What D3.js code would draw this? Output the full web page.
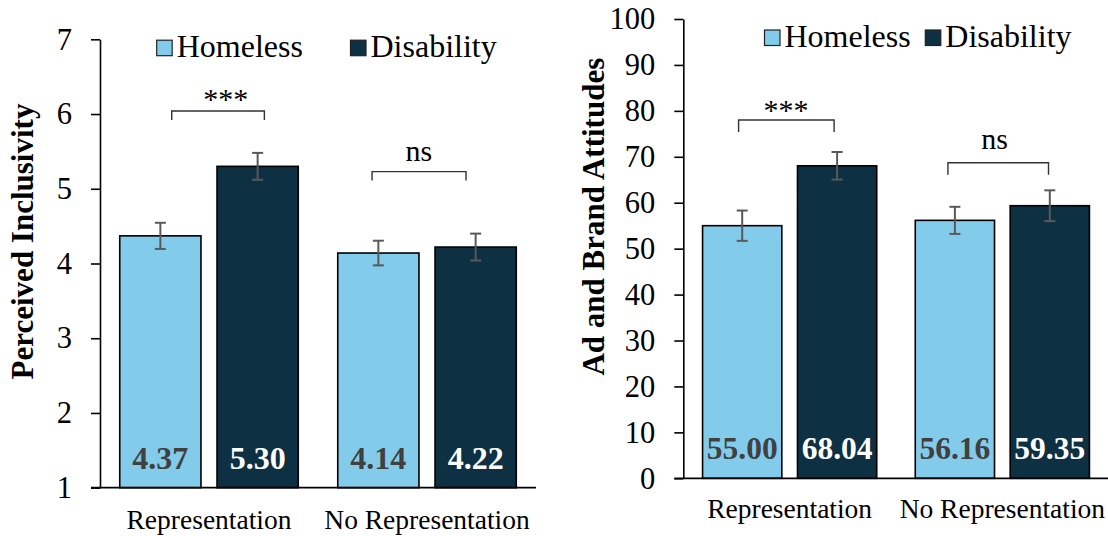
<!DOCTYPE html>
<html>
<head>
<meta charset="utf-8">
<script src="https://cdn.jsdelivr.net/npm/d3@7/dist/d3.min.js"></script>
<style>
  html, body { margin: 0; padding: 0; background: #fff; }
  svg { display: block; }
  svg text { font-family: "Times New Roman", Times, "Liberation Serif", serif !important; }
</style>
</head>
<body>
<svg id="chart" width="1108" height="536"></svg>
<script>
// ---- data ----
const groups = ["Representation", "No Representation"];
const seriesNames = ["Homeless", "Disability"];

const inclusivityHomeless = [4.37, 4.14];
const inclusivityDisability = [5.30, 4.22];
const inclusivityErrHomeless = [0.175, 0.165];
const inclusivityErrDisability = [0.18, 0.18];
const inclusivityTicks = [1, 2, 3, 4, 5, 6, 7];

const attitudeHomeless = [55.00, 56.16];
const attitudeDisability = [68.04, 59.35];
const attitudeErrHomeless = [3.3, 2.95];
const attitudeErrDisability = [3.0, 3.35];
const attitudeTicks = [0, 10, 20, 30, 40, 50, 60, 70, 80, 90, 100];

const sigLabels = ["***", "ns"];

// ---- styling ----
const colors = { Homeless: "#83CBEB", Disability: "#0E3043" };
const labelColors = { Homeless: "#404040", Disability: "#ffffff" };
const FONT = '"Times New Roman", Times, "Liberation Serif", serif';

const svg = d3.select("#chart");

function drawPanel(cfg) {
  const g = svg.append("g").attr("font-family", FONT);
  const rows = groups.map((grp, i) => ({
    group: grp,
    bars: [
      { series: "Homeless", value: cfg.homeless[i], err: cfg.errHomeless[i] },
      { series: "Disability", value: cfg.disability[i], err: cfg.errDisability[i] }
    ]
  }));

  const x0 = d3.scaleBand().domain(groups).range([cfg.left, cfg.right]).paddingInner(0).paddingOuter(0);
  const x1 = d3.scaleBand().domain(seriesNames).range([0, x0.bandwidth()])
    .paddingInner(0.165).paddingOuter(0.203);
  const y = d3.scaleLinear().domain(cfg.domain).range([cfg.bottom, cfg.top]);

  // bars
  const grpSel = g.selectAll("g.grp").data(rows).join("g")
    .attr("transform", d => `translate(${x0(d.group)},0)`);

  grpSel.selectAll("rect").data(d => d.bars).join("rect")
    .attr("x", d => x1(d.series))
    .attr("width", x1.bandwidth())
    .attr("y", d => y(d.value))
    .attr("height", d => y(cfg.domain[0]) - y(d.value))
    .attr("fill", d => colors[d.series])
    .attr("stroke", "#000")
    .attr("stroke-width", 1.6);

  // error bars
  const capHalf = 5.5;
  const eb = grpSel.selectAll("g.err").data(d => d.bars).join("g")
    .attr("class", "err")
    .attr("stroke", "#595959").attr("stroke-width", 2).attr("fill", "none");
  eb.append("line")
    .attr("x1", d => x1(d.series) + x1.bandwidth() / 2)
    .attr("x2", d => x1(d.series) + x1.bandwidth() / 2)
    .attr("y1", d => y(d.value + d.err))
    .attr("y2", d => y(d.value - d.err));
  eb.append("line")
    .attr("x1", d => x1(d.series) + x1.bandwidth() / 2 - capHalf)
    .attr("x2", d => x1(d.series) + x1.bandwidth() / 2 + capHalf)
    .attr("y1", d => y(d.value + d.err)).attr("y2", d => y(d.value + d.err));
  eb.append("line")
    .attr("x1", d => x1(d.series) + x1.bandwidth() / 2 - capHalf)
    .attr("x2", d => x1(d.series) + x1.bandwidth() / 2 + capHalf)
    .attr("y1", d => y(d.value - d.err)).attr("y2", d => y(d.value - d.err));

  // value labels inside bars
  grpSel.selectAll("text.val").data(d => d.bars).join("text")
    .attr("class", "val")
    .attr("x", d => x1(d.series) + x1.bandwidth() / 2)
    .attr("y", y(cfg.domain[0]) - cfg.valueLift)
    .attr("text-anchor", "middle")
    .attr("font-size", cfg.valueSize)
    .attr("font-weight", "bold")
    .attr("fill", d => labelColors[d.series])
    .text(d => d.value.toFixed(2));

  // y axis
  const yAxis = d3.axisLeft(y).tickValues(cfg.ticks).tickSize(9).tickSizeOuter(0).tickPadding(19)
    .tickFormat(d3.format("d"));
  const ay = g.append("g").attr("transform", `translate(${cfg.left},0)`).call(yAxis);
  ay.attr("font-family", FONT);
  ay.select(".domain").attr("stroke", "#000").attr("stroke-width", 1.6);
  ay.selectAll(".tick line").attr("stroke", "#000").attr("stroke-width", 1.6);
  ay.selectAll(".tick text").attr("font-size", 30.5).attr("fill", "#000");

  // baseline across the plot
  g.append("line")
    .attr("x1", cfg.left - 9).attr("x2", cfg.right)
    .attr("y1", y(cfg.domain[0])).attr("y2", y(cfg.domain[0]))
    .attr("stroke", "#000").attr("stroke-width", 1.8);

  // category labels
  g.selectAll("text.cat").data(groups).join("text")
    .attr("class", "cat")
    .attr("x", d => x0(d) + x0.bandwidth() / 2)
    .attr("y", y(cfg.domain[0]) + cfg.catDrop)
    .attr("text-anchor", "middle")
    .attr("font-size", 27.5)
    .attr("fill", "#000")
    .text(d => d);

  // y axis title
  g.append("text")
    .attr("transform", `translate(${cfg.titleX},${cfg.titleY}) rotate(-90)`)
    .attr("text-anchor", "middle")
    .attr("font-size", 31)
    .attr("font-weight", "bold")
    .attr("fill", "#000")
    .text(cfg.title);

  // significance brackets
  cfg.brackets.forEach((b, i) => {
    const bx0 = x0(groups[i]) + b.from * x0.bandwidth();
    const bx1 = x0(groups[i]) + b.to * x0.bandwidth();
    const by = y(b.level);
    g.append("path")
      .attr("d", `M${bx0},${by + b.leg}V${by}H${bx1}V${by + b.leg}`)
      .attr("fill", "none").attr("stroke", "#333").attr("stroke-width", 1.4);
    g.append("text")
      .attr("x", x0(groups[i]) + b.textAt * x0.bandwidth())
      .attr("y", by - b.textLift)
      .attr("text-anchor", "middle")
      .attr("font-size", 30)
      .attr("fill", "#000")
      .text(sigLabels[i]);
  });

  // legend
  const lg = g.append("g");
  seriesNames.forEach((s, i) => {
    const lx = cfg.legendX[i];
    lg.append("rect")
      .attr("x", lx).attr("y", cfg.legendY)
      .attr("width", 15.5).attr("height", 15.5)
      .attr("fill", colors[s]).attr("stroke", "#222").attr("stroke-width", 1.2);
    lg.append("text")
      .attr("x", lx + 20).attr("y", cfg.legendY + 17)
      .attr("font-size", 32)
      .attr("fill", "#000")
      .text(s);
  });
}

drawPanel({
  left: 100, right: 536, top: 39.3, bottom: 487.7,
  domain: [1, 7], ticks: inclusivityTicks,
  homeless: inclusivityHomeless, disability: inclusivityDisability,
  errHomeless: inclusivityErrHomeless, errDisability: inclusivityErrDisability,
  valueLift: 18.5, valueSize: 32, catDrop: 41.5,
  title: "Perceived Inclusivity", titleX: 33, titleY: 241.5,
  brackets: [
    { from: 0.329, to: 0.754, level: 6.04, leg: 9, textAt: 0.577, textLift: 2.5 },
    { from: 0.248, to: 0.679, level: 5.23, leg: 9, textAt: 0.463, textLift: 10.5 }
  ],
  legendX: [156.7, 350.5], legendY: 40.2
});

drawPanel({
  left: 683.3, right: 1108.7, top: 19, bottom: 478.3,
  domain: [0, 100], ticks: attitudeTicks,
  homeless: attitudeHomeless, disability: attitudeDisability,
  errHomeless: attitudeErrHomeless, errDisability: attitudeErrDisability,
  valueLift: 19, valueSize: 31.5, catDrop: 40,
  title: "Ad and Brand Attitudes", titleX: 604, titleY: 216.7,
  brackets: [
    { from: 0.26, to: 0.709, level: 78.0, leg: 12, textAt: 0.483, textLift: 0 },
    { from: 0.244, to: 0.717, level: 68.7, leg: 12, textAt: 0.464, textLift: 13.4 }
  ],
  legendX: [764.5, 925.3], legendY: 30
});
</script>
</body>
</html>
